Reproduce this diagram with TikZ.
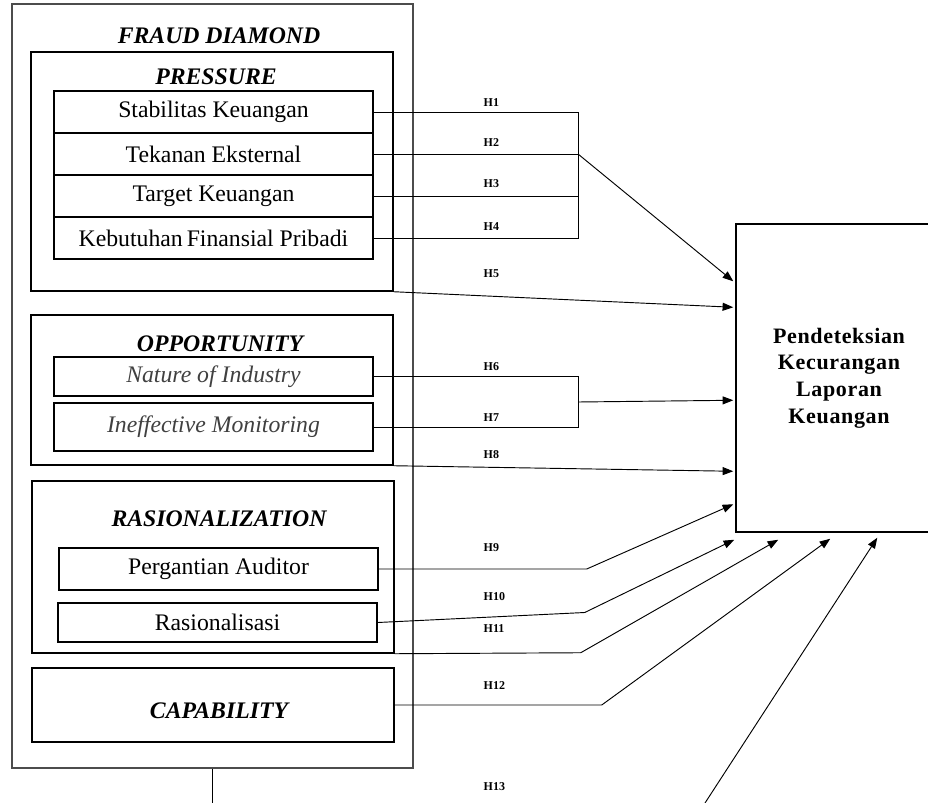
\documentclass[tikz,border=0pt]{standalone}
\usepackage{fontspec}
\setmainfont{Liberation Serif}
\usetikzlibrary{fit,calc,arrows.meta}
\newcommand{\pxu}{0.75pt}

\tikzset{
  frame/.style={draw, line width=1.1pt, inner sep=0pt},
  sz/.style 2 args={minimum width=#1*\pxu, minimum height=#2*\pxu},
  item/.style={frame, font=\fontsize{17.8}{20}\selectfont},
  itemit/.style={frame, text=black!75, font=\fontsize{17.8}{20}\selectfont\itshape},
  ttl/.style={font=\fontsize{17.8}{20}\selectfont\bfseries\itshape},
  hlab/.style={anchor=west, font=\fontsize{9}{10}\selectfont\bfseries},
  link/.style={line width=0.7pt},
  arr/.style={link, -{Triangle[length=8pt,width=6pt]}}
}

\begin{document}
\begin{tikzpicture}[x=\pxu, y=-\pxu]
    \useasboundingbox (0,0) rectangle (928,803);
    % outer frame
    \node[frame, draw=black!70, line width=0.8pt, fit={(12,4) (413,768)}] (fd) {};
    \node[ttl] (fdt) at (219,36) {FRAUD DIAMOND};

    % pressure
    \node[frame, fit={(31,52) (393,291)}] (pr) {};
    \node[ttl] (prt) at (216,77) {PRESSURE};
    \foreach \t [count=\i] in {Stabilitas Keuangan, Tekanan Eksternal, Target Keuangan, Kebutuhan\,Finansial Pribadi} {
        \pgfmathsetmacro{\yc}{112+(\i-1)*42}
        \node[item, sz={319}{42}] (p\i) at (213.5,\yc) {\t};
    }

    % opportunity
    \node[frame, fit={(31,315) (393,465)}] (op) {};
    \node[ttl] (opt) at (220,344) {OPPORTUNITY};
    \node[itemit, sz={319}{39}] (o1) at (213.5,376.5) {Nature of Industry};
    \node[itemit, sz={319}{48}] (o2) at (213.5,427) {Ineffective Monitoring};

    % rasionalization
    \node[frame, fit={(32,481) (394,653)}] (ra) {};
    \node[ttl] (rat) at (219,519) {RASIONALIZATION};
    \node[item, sz={319}{42}] (r1) at (218.5,569) {Pergantian Auditor};
    \node[item, sz={319}{39}] (r2) at (217.5,622.5) {Rasionalisasi};

    % capability
    \node[frame, fit={(32,668) (394,742)}] (cp) {};
    \node[ttl] (cpt) at (219,711) {CAPABILITY};

    % dependent variable
    \node[frame, sz={206}{308}, align=center,
          font=\fontsize{16.5}{20}\selectfont\bfseries\addfontfeatures{LetterSpace=3}] (ct) at (839,378)
          {Pendeteksian\\Kecurangan\\Laporan\\Keuangan};

    % H1 - H5
    \coordinate (pj) at (578,154);
    \foreach \i in {1,...,4}
        \draw[link] (p\i.east) -| (pj);
    \draw[arr] (pj) -- ($(ct.north west)+(-2,58)$);
    \draw[arr] (pr.south east) -- ($(ct.north west)+(-2,84)$);

    % H6 - H8
    \coordinate (oj) at (578,402);
    \foreach \i in {1,2}
        \draw[link] (o\i.east) -| (oj);
    \draw[arr] (oj) -- ($(ct.north west)+(-2,177)$);
    \draw[arr] (op.south east) -- ($(ct.north west)+(-2,248)$);

    % H9 - H13
    \draw[arr] (r1.east) -- ++(208,0) -- ($(ct.north west)+(-2,281)$);
    \draw[arr] (r2.east) -- ++(207,-10) -- ($(ct.south west)+(-1,7)$);
    \draw[arr] (ra.south east) -- ++(186,-1) -- ($(ct.south west)+(43,7)$);
    \draw[arr] (cp.east) -- ++(207,0) -- ($(ct.south west)+(95,6)$);
    \coordinate (h13s) at (705,803);
    \draw[arr] (h13s) -- ($(ct.south west)+(142,5)$);
    \draw[link] (fd.south) -- ++(0,40);

    \foreach \n/\y in {1/103, 2/143, 3/184, 4/227, 5/274, 6/367, 7/418, 8/455, 9/548, 10/597, 11/629, 12/686, 13/787}
        \node[hlab] (h\n) at (479,\y) {H\n};
\end{tikzpicture}
\end{document}
